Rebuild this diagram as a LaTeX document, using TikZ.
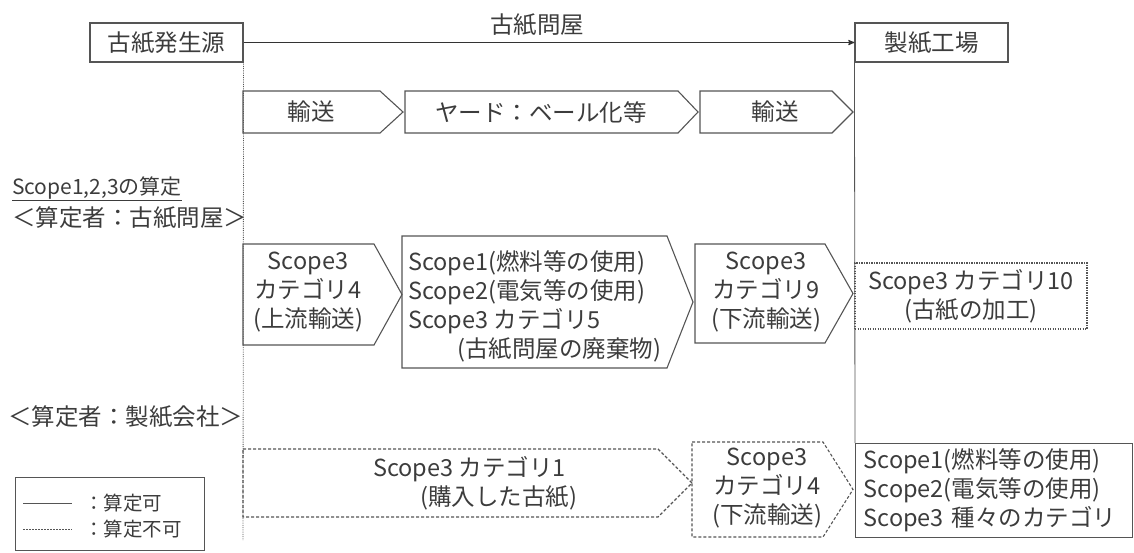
\documentclass[tikz,border=0pt]{standalone}
\usepackage{fontspec}
\setmainfont{Noto Sans CJK JP}
\usetikzlibrary{arrows}
\definecolor{ink}{HTML}{3C3C3C}
\definecolor{edge}{HTML}{555555}

\begin{document}
\begin{tikzpicture}[x=1pt,y=-1pt,>=stealth',txt/.style={text=ink,inner sep=0pt,font=\fontsize{23.5}{29}\selectfont},frame/.style={draw=edge,line width=1.1pt},open/.style={frame,dash pattern=on 3pt off 2pt},dots/.style={frame,dash pattern=on 1.2pt off 1.3pt},place/.style={frame,txt,minimum height=39pt,minimum width=153pt}]
  \useasboundingbox (0,0) rectangle (1134,552);

  \node[place] (src) at (166.5,42.5) {古紙発生源};
  \node[place] (mill) at (931.5,42.5) {製紙工場};
  \node[txt] (broker) at (537,25) {古紙問屋};
  \coordinate (srcend) at (243,540);

  \draw[frame] (243,91) -- (380,91) -- (403,112) -- (380,133) -- (243,133) -- cycle;
  \draw[frame] (405,91) -- (678,91) -- (698,112) -- (678,133) -- (405,133) -- cycle;
  \draw[frame] (700,91) -- (832,91) -- (853,112) -- (832,133) -- (700,133) -- cycle;
  \node[txt] (haul1) at (311,112) {輸送};
  \node[txt] (yard) at (541,112) {ヤード：ベール化等};
  \node[txt] (haul2) at (775,112) {輸送};

  \draw[frame] (243,244) -- (374,244) -- (402,294.5) -- (374,345) -- (243,345) -- cycle;
  \draw[frame] (402,236) -- (667,236) -- (693,302) -- (667,368) -- (402,368) -- cycle;
  \draw[frame] (695,244) -- (825,244) -- (853,293.5) -- (825,343) -- (695,343) -- cycle;
  \node[txt,align=center] (up4) at (308,292) {Scope3\\カテゴリ4\\(上流輸送)};
  \node[txt,align=left,anchor=west] (own) at (408,306.5) {Scope1(燃料等の使用)\\Scope2(電気等の使用)\\Scope3 カテゴリ5\\\hspace*{49pt}(古紙問屋の廃棄物)};
  \node[txt,align=center] (down9) at (766,292) {Scope3\\カテゴリ9\\(下流輸送)};
  \node[dots,txt,align=center,minimum width=232pt,minimum height=66pt] (proc) at (971,296) {Scope3 カテゴリ10\\(古紙の加工)};

  \draw[open] (243,449) -- (658,449) -- (692,483) -- (658,517) -- (243,517) -- cycle;
  \draw[open] (692,442) -- (823,442) -- (853,489.5) -- (823,537) -- (692,537) -- cycle;
  \node[txt,align=left,anchor=west] (buy) at (373,483.5) {Scope3 カテゴリ1\\\hspace*{47pt}(購入した古紙)};
  \node[txt,align=center] (down4) at (767,488) {Scope3\\カテゴリ4\\(下流輸送)};
  \node[frame,txt,align=left,text width=261pt,inner xsep=8pt,minimum height=94pt,anchor=north west] (plant) at (855,443) {Scope1(燃料等の使用)\\Scope2(電気等の使用)\\Scope3 種々のカテゴリ};

  \node[txt,anchor=west,font=\fontsize{21}{24}\selectfont] (rule) at (12,189) {\underline{Scope1,2,3の算定}};
  \node[txt,anchor=west,font=\fontsize{23.5}{29}\selectfont] (by1) at (12,218) {＜算定者：古紙問屋＞};
  \node[txt,anchor=west,font=\fontsize{23.5}{29}\selectfont] (by2) at (8,417) {＜算定者：製紙会社＞};

  \node[frame,minimum width=189pt,minimum height=73pt,anchor=north west] (key) at (15,477) {};
  \coordinate (k1a) at (23,503);
  \coordinate (k1b) at (72,503);
  \coordinate (k2a) at (23,529);
  \coordinate (k2b) at (72,529);
  \node[txt,anchor=west,font=\fontsize{19.5}{22}\selectfont] (ok) at (84,503) {：算定可};
  \node[txt,anchor=west,font=\fontsize{19.5}{22}\selectfont] (ng) at (84,529) {：算定不可};

\path[draw=edge,line width=0.8pt]
  (src.south east) edge [densely dotted] (srcend)
  (mill.south west) edge (plant.north west)
  (k1a) edge (k1b)
  (k2a) edge [dash pattern=on 2pt off 1pt] (k2b);
  \draw[->,line width=1.2pt,black!80] (src.east) -- (mill.west);
\end{tikzpicture}
\end{document}
